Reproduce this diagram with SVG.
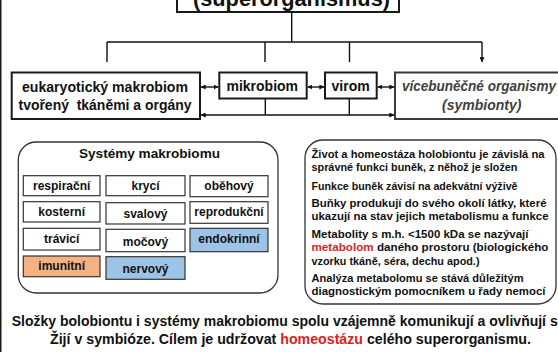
<svg xmlns="http://www.w3.org/2000/svg" width="558" height="352" viewBox="0 0 558 352">
<defs>
<style>
text{font-family:"Liberation Sans",Arial,sans-serif;font-weight:bold;fill:#111}
.box{fill:#fff;stroke:#1a1a1a;stroke-width:2}
.gbox{fill:#fff;stroke:#3a3a3a;stroke-width:2}
.cell{fill:#fff;stroke:#333;stroke-width:1.2}
.blue{fill:#9dc3e6}
.sal{fill:#f4b183}
.rbox{fill:none;stroke:#333;stroke-width:1.3}
.t14{font-size:14px}
.c12{font-size:12px;text-anchor:middle}
.r11{font-size:11px}
.it{font-style:italic;fill:#404040;font-size:14px;text-anchor:middle}
.red{fill:#dc1e1e}
.ln{fill:none;stroke:#111;stroke-width:1.4}
</style>
<marker id="ah" viewBox="0 0 8 8" refX="7.5" refY="4" markerWidth="5" markerHeight="5" orient="auto-start-reverse" markerUnits="userSpaceOnUse">
<path d="M0,0 L8,4 L0,8 z" fill="#111"/>
</marker>
</defs>
<rect width="558" height="352" fill="#fff"/>
<rect x="0" y="0" width="1.5" height="352" fill="#1a1a1a"/>

<g id="superorganismus">
<rect class="box" x="177" y="-30" width="222" height="42"/>
<text x="291.5" y="5.5" font-size="22" text-anchor="middle" textLength="197" lengthAdjust="spacingAndGlyphs">(superorganismus)</text>
</g>

<g id="eukaryoticky">
<rect class="box" x="11.7" y="72.5" width="188.3" height="46.5"/>
<text class="t14" x="105" y="91.5" text-anchor="middle" textLength="166" lengthAdjust="spacingAndGlyphs">eukaryotický makrobiom</text>
<text class="t14" x="105" y="110" text-anchor="middle" xml:space="preserve" textLength="173" lengthAdjust="spacingAndGlyphs">tvořený  tkáněmi a orgány</text>
</g>

<g id="mikrobiom">
<rect class="box" x="219.3" y="72.5" width="87.4" height="26"/>
<text class="t14" x="262.3" y="90.5" text-anchor="middle">mikrobiom</text>
</g>

<g id="virom">
<rect class="box" x="325" y="72.5" width="51.7" height="26"/>
<text class="t14" x="350.6" y="90.5" text-anchor="middle">virom</text>
</g>

<g id="mnohobunecne">
<rect class="gbox" x="395" y="72.5" width="175" height="46.5"/>
<text class="it" x="479" y="91" textLength="154" lengthAdjust="spacingAndGlyphs">vícebuněčné organismy</text>
<text class="it" x="481.7" y="109.5">(symbionty)</text>
</g>

<g id="connectors">
<path class="ln" d="M291.7,12 V42 M107,42 H482"/>
<path class="ln" d="M107,42 V62 M265,42 V62 M349.5,42 V62 M482,42 V62" marker-end="url(#ah)"/>
<line class="ln" x1="201" y1="87" x2="218.3" y2="87" marker-start="url(#ah)" marker-end="url(#ah)"/>
<line class="ln" x1="307.7" y1="87" x2="324" y2="87" marker-start="url(#ah)" marker-end="url(#ah)"/>
<line class="ln" x1="377.7" y1="87" x2="394" y2="87" marker-start="url(#ah)" marker-end="url(#ah)"/>
<line class="ln" x1="201" y1="115" x2="394" y2="115" marker-start="url(#ah)" marker-end="url(#ah)"/>
<path class="ln" d="M265.3,98.5 V115 M349.3,98.5 V115"/>
</g>

<g id="systemy-makrobiomu">
<rect class="rbox" x="18.3" y="142" width="259.7" height="151" rx="18" ry="18"/>
<text x="149.5" y="158.3" font-size="13.5" text-anchor="middle" textLength="141" lengthAdjust="spacingAndGlyphs">Systémy makrobiomu</text>
</g>

<g id="respiracni"><rect class="cell" x="23.3" y="175.7" width="76.7" height="20"/><text class="c12" x="61.7" y="190">respirační</text></g>
<g id="kosterni"><rect class="cell" x="23.3" y="201.7" width="76.7" height="20.3"/><text class="c12" x="61.7" y="216">kosterní</text></g>
<g id="travici"><rect class="cell" x="23.3" y="228.3" width="76.7" height="21.7"/><text class="c12" x="61.7" y="243">trávicí</text></g>
<g id="imunitni"><rect class="cell sal" x="23.3" y="256" width="76.7" height="20.7"/><text class="c12" x="61.7" y="270">imunitní</text></g>

<g id="kryci"><rect class="cell" x="106" y="175.7" width="79" height="20"/><text class="c12" x="145.5" y="190">krycí</text></g>
<g id="svalovy"><rect class="cell" x="106" y="202.7" width="79" height="21.3"/><text class="c12" x="145.5" y="218">svalový</text></g>
<g id="mocovy"><rect class="cell" x="106" y="229.3" width="79" height="22.4"/><text class="c12" x="145.5" y="245.5">močový</text></g>
<g id="nervovy"><rect class="cell blue" x="106" y="256.7" width="79" height="22.6"/><text class="c12" x="145.5" y="273">nervový</text></g>

<g id="obehovy"><rect class="cell" x="190" y="175.7" width="78" height="21"/><text class="c12" x="229" y="189.5">oběhový</text></g>
<g id="reprodukcni"><rect class="cell" x="190" y="201.7" width="78" height="21.6"/><text class="c12" x="229" y="216">reprodukční</text></g>
<g id="endokrinni"><rect class="cell blue" x="190" y="228.3" width="78" height="23.4"/><text class="c12" x="229" y="242.5">endokrinní</text></g>

<g id="metabolom-info">
<rect class="rbox" x="305" y="140" width="251" height="164" rx="18" ry="18"/>
<text class="r11" x="311.5" y="158" textLength="233" lengthAdjust="spacingAndGlyphs">Život a homeostáza holobiontu je závislá na</text>
<text class="r11" x="311.5" y="171.3" textLength="206" lengthAdjust="spacingAndGlyphs">správné funkci buněk, z něhož je složen</text>
<text class="r11" x="311.5" y="190" textLength="206" lengthAdjust="spacingAndGlyphs">Funkce buněk závisí na adekvátní výživě</text>
<text class="r11" x="311.5" y="206.5" textLength="235" lengthAdjust="spacingAndGlyphs">Buňky produkují do svého okolí látky, které</text>
<text class="r11" x="311.5" y="219.7" textLength="237" lengthAdjust="spacingAndGlyphs">ukazují na stav jejich metabolismu a funkce</text>
<text class="r11" x="311.5" y="238.2" textLength="217" lengthAdjust="spacingAndGlyphs">Metabolity s m.h. &lt;1500 kDa se nazývají</text>
<text class="r11" x="311.5" y="251.4" textLength="237" lengthAdjust="spacingAndGlyphs"><tspan class="red">metabolom</tspan> daného prostoru (biologického</text>
<text class="r11" x="311.5" y="264.6" textLength="168" lengthAdjust="spacingAndGlyphs">vzorku tkáně, séra, dechu apod.)</text>
<text class="r11" x="311.5" y="282" textLength="212" lengthAdjust="spacingAndGlyphs">Analýza metabolomu se stává důležitým</text>
<text class="r11" x="311.5" y="295.3" textLength="234" lengthAdjust="spacingAndGlyphs">diagnostickým pomocníkem u řady nemocí</text>
</g>

<g id="zaver">
<text x="11.7" y="325.5" font-size="14" textLength="546" lengthAdjust="spacingAndGlyphs">Složky bolobiontu i systémy makrobiomu spolu vzájemně komunikují a ovlivňují s</text>
<text x="50" y="343.5" font-size="14" textLength="481" lengthAdjust="spacingAndGlyphs">Žijí v symbióze. Cílem je udržovat <tspan class="red">homeostázu</tspan> celého superorganismu.</text>
</g>
</svg>
